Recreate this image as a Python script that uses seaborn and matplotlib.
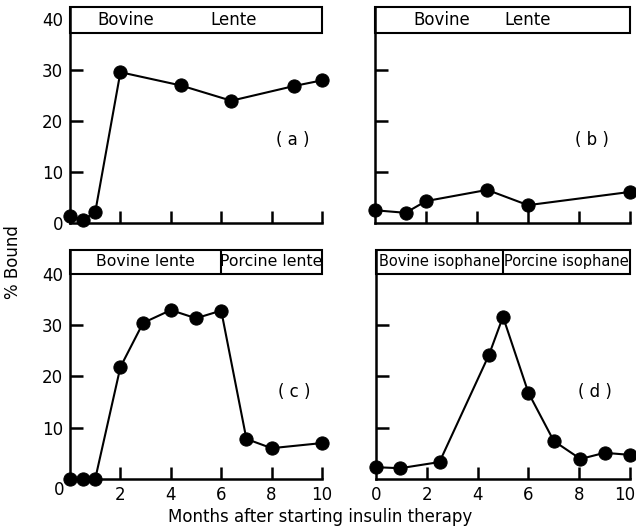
import matplotlib
matplotlib.use("Agg")
import matplotlib.pyplot as plt
from matplotlib.patches import Rectangle
from matplotlib.transforms import ScaledTranslation
import seaborn as sns
import pandas as pd

# ---- data ----
a_x = [0, 0.5, 1.0, 2.0, 4.4, 6.4, 8.9, 10.0]
a_y = [1.4, 0.6, 2.1, 29.6, 27.0, 24.0, 26.9, 28.0]

b_x = [0, 1.2, 2.0, 4.4, 6.0, 10.0]
b_y = [2.5, 2.0, 4.3, 6.5, 3.5, 6.1]

c_x = [0, 0.5, 1.0, 2.0, 2.9, 4.0, 5.0, 6.0, 7.0, 8.0, 10.0]
c_y = [0, 0, 0, 21.8, 30.4, 32.9, 31.3, 32.8, 7.8, 6.0, 7.0]

d_x = [0, 0.95, 2.5, 4.45, 5.0, 6.0, 7.0, 8.05, 9.0, 10.0]
d_y = [2.3, 2.1, 3.3, 24.2, 31.6, 16.8, 7.4, 3.9, 5.1, 4.7]

panel_labels = ["(a)", "(b)", "(c)", "(d)"]
y_ticks = [0, 10, 20, 30, 40]
x_ticks = [0, 2, 4, 6, 8, 10]
x_label = "Months after starting insulin therapy"
y_label = "% Bound"

sns.set_theme(style="white")
plt.rcParams['font.family'] = ['DejaVu Sans']
plt.rcParams['text.color'] = 'black'
plt.rcParams['xtick.color'] = 'black'
plt.rcParams['ytick.color'] = 'black'
FS = 12

W, H = 636, 531
fig = plt.figure(figsize=(W / 100, H / 100), dpi=100)

def frac(l, r, b, t):
    return [l / W, 1 - b / H, (r - l) / W, (b - t) / H]

ax_a = fig.add_axes(frac(70, 322, 223, 7))
ax_b = fig.add_axes(frac(375, 630, 223, 7))
ax_c = fig.add_axes(frac(70, 322, 479, 250))
ax_d = fig.add_axes(frac(376, 630, 479, 250))

panels = [
    (ax_a, a_x, a_y, 42.4, 37.3, [("Bovine", 2.2), ("Lente", 6.5)], None, (8.85, 16.3), FS),
    (ax_b, b_x, b_y, 42.4, 37.3, [("Bovine", 2.6), ("Lente", 6.0)], None, (8.5, 16.3), FS),
    (ax_c, c_x, c_y, 44.6, 40.0, [("Bovine lente", 3.0), ("Porcine lente", 8.0)], 6.0, (8.9, 17.0), 11.3),
    (ax_d, d_x, d_y, 44.6, 40.0, [("Bovine isophane", 2.5), ("Porcine isophane", 7.5)], 5.0, (8.6, 17.0), 10.5),
]

for i, (ax, xs, ys, ytop, boxbot, hdr, divider, lblpos, hfs) in enumerate(panels):
    df = pd.DataFrame({"x": xs, "y": ys})
    sns.lineplot(data=df, x="x", y="y", ax=ax, color="black", sort=False,
                 estimator=None, marker="o", markersize=9.5, linewidth=1.5,
                 markeredgecolor="black", clip_on=False, zorder=5)
    ax.set_xlim(0, 10)
    ax.set_ylim(0, ytop)
    ax.set_xlabel("")
    ax.set_ylabel("")
    for s in ["top", "right"]:
        ax.spines[s].set_visible(False)
    for s in ["left", "bottom"]:
        ax.spines[s].set_linewidth(1.8)
        ax.spines[s].set_color("black")
    ax.set_facecolor("white")
    # header box
    ax.add_patch(Rectangle((0, boxbot), 10, ytop - boxbot, fill=False,
                           edgecolor="black", linewidth=1.5, clip_on=False, zorder=6))
    if divider is not None:
        ax.plot([divider, divider], [boxbot, ytop], color="black", lw=1.5, clip_on=False)
    ymid = (boxbot + ytop) / 2
    for txt, xp in hdr:
        ax.text(xp, ymid, txt, ha="center", va="center", fontsize=hfs)
    ax.text(lblpos[0], lblpos[1], panel_labels[i].replace("(", "( ").replace(")", " )"),
            ha="center", va="center", fontsize=FS)
    ax.tick_params(axis="both", direction="in", length=9, width=1.8, color="black",
                   labelsize=FS, pad=5, bottom=True, left=True, top=False, right=False)
    ax.set_xticks([2, 4, 6, 8, 10])
    ax.set_yticks([10, 20, 30])

# tick labels
ax_a.set_yticks([0, 10, 20, 30, 40])
ax_a.set_yticklabels([str(v) for v in y_ticks])
ax_a.yaxis.get_major_ticks()[0].tick1line.set_visible(False)
ax_a.yaxis.get_major_ticks()[4].tick1line.set_visible(False)
for ax in (ax_b, ax_d):
    ax.set_yticklabels([])
for ax in (ax_a, ax_b):
    ax.set_xticklabels([])
ax_c.set_yticks([10, 20, 30, 40])
ax_c.set_yticklabels(["10", "20", "30", "40"])
ax_c.yaxis.get_major_ticks()[3].tick1line.set_visible(False)
ax_c.set_xticks(x_ticks)
ax_c.set_xticklabels([""] + [str(v) for v in x_ticks[1:]])
ax_c.xaxis.get_major_ticks()[0].tick1line.set_visible(False)
ax_c.text(-0.45, -0.4, "0", transform=ax_c.transData, ha="center", va="top", fontsize=FS)
ax_d.set_xticks(x_ticks)
ax_d.set_xticklabels([str(v) for v in x_ticks])
ax_d.xaxis.get_major_ticks()[0].tick1line.set_visible(False)
last = ax_d.get_xticklabels()[-1]
last.set_transform(last.get_transform() + ScaledTranslation(-5 / 100, 0, fig.dpi_scale_trans))

fig.text(320 / W, 1 - 517 / H, x_label, ha="center", va="center", fontsize=FS)
fig.text(13 / W, 1 - 262 / H, y_label, ha="center", va="center", fontsize=FS, rotation=90)

fig.savefig("out.png", dpi=100, facecolor="white")
